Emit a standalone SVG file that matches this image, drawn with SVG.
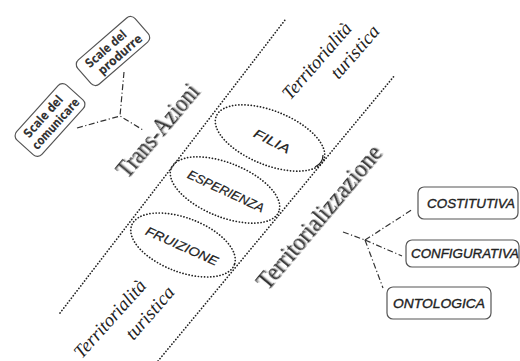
<svg xmlns="http://www.w3.org/2000/svg" width="520" height="361" viewBox="0 0 520 361">
  <defs>
    <filter id="emboss" x="-10%" y="-10%" width="120%" height="120%">
      <feDropShadow dx="1.2" dy="1" stdDeviation="0.7" flood-color="#888" flood-opacity="0.8"/>
    </filter>
  </defs>
  <style>
    .dots { fill: none; stroke: #222; stroke-width: 1.7; stroke-linecap: round; stroke-dasharray: 0.1 3; }
    .dashdot { fill: none; stroke: #333; stroke-width: 1.2; stroke-dasharray: 6 2.5 1.2 2.5; }
    .box { fill: #fff; stroke: #555; stroke-width: 1.2; }
    .big { font-family: "Liberation Serif", "Times New Roman", serif; font-size: 25px; fill: #333; filter: url(#emboss); }
    .script { font-family: "Liberation Serif", serif; font-style: italic; font-size: 19px; fill: #222; }
    .oval { font-family: "Liberation Sans", Arial, sans-serif; font-style: italic; font-size: 12.5px; fill: #222; stroke: #222; stroke-width: 0.2; }
    .cap { font-family: "Liberation Sans", Arial, sans-serif; font-style: italic; font-size: 13px; fill: #222; stroke: #222; stroke-width: 0.35; }
    .hand { font-family: "DejaVu Sans", sans-serif; font-weight: bold; font-size: 12.5px; fill: #333; }
  </style>

  <!-- band guides -->
  <g id="guides">
    <line class="dots" x1="60" y1="313" x2="285" y2="20"/>
    <line class="dots" x1="158" y1="361" x2="395" y2="75"/>
  </g>

  <!-- band labels -->
  <g id="territorialita-top">
    <text class="script" transform="translate(317,61) rotate(-49)" y="6" text-anchor="middle" textLength="95" lengthAdjust="spacingAndGlyphs">Territorialità</text>
    <text class="script" transform="translate(355,52) rotate(-49)" y="6" text-anchor="middle" textLength="64" lengthAdjust="spacingAndGlyphs">turistica</text>
  </g>
  <g id="territorialita-bottom">
    <text class="script" transform="translate(110,319) rotate(-48)" y="6" text-anchor="middle" textLength="98" lengthAdjust="spacingAndGlyphs">Territorialità</text>
    <text class="script" transform="translate(150,313) rotate(-49)" y="6" text-anchor="middle" textLength="64" lengthAdjust="spacingAndGlyphs">turistica</text>
  </g>

  <g id="trans-azioni">
    <text class="big" transform="translate(158.5,131.5) rotate(-50)" x="0" y="7" text-anchor="middle" textLength="114" lengthAdjust="spacingAndGlyphs">Trans-Azioni</text>
  </g>
  <g id="territorializzazione">
    <text class="big" transform="translate(320,218) rotate(-50)" x="0" y="7" text-anchor="middle" textLength="180" lengthAdjust="spacingAndGlyphs">Territorializzazione</text>
  </g>

  <!-- ovals inside the band -->
  <g id="filia">
    <ellipse class="dots" cx="270" cy="138" rx="58" ry="27" transform="rotate(22 270 138)"/>
    <text class="oval" transform="translate(272,141) rotate(27)" y="4.5" text-anchor="middle" textLength="39" lengthAdjust="spacingAndGlyphs">FILIA</text>
  </g>
  <g id="esperienza">
    <ellipse class="dots" cx="225" cy="190" rx="58" ry="27" transform="rotate(22 225 190)"/>
    <text class="oval" transform="translate(226,191) rotate(25)" y="4.5" text-anchor="middle" textLength="83" lengthAdjust="spacingAndGlyphs">ESPERIENZA</text>
  </g>
  <g id="fruizione">
    <ellipse class="dots" cx="183" cy="245" rx="55" ry="27" transform="rotate(21 183 245)"/>
    <text class="oval" transform="translate(182,246) rotate(24)" y="4.5" text-anchor="middle" textLength="78" lengthAdjust="spacingAndGlyphs">FRUIZIONE</text>
  </g>

  <!-- scale boxes -->
  <g id="scale-comunicare" transform="translate(50,120) rotate(-48)">
    <rect class="box" x="-37" y="-17" width="74" height="34" rx="6"/>
    <text class="hand" x="-2" y="-3" text-anchor="middle" textLength="52" lengthAdjust="spacingAndGlyphs">Scale del</text>
    <text class="hand" x="1" y="11" text-anchor="middle" textLength="64" lengthAdjust="spacingAndGlyphs">comunicare</text>
  </g>
  <g id="scale-produrre" transform="translate(113,51) rotate(-41)">
    <rect class="box" x="-38" y="-16" width="76" height="32" rx="6"/>
    <text class="hand" x="-4" y="-2" text-anchor="middle" textLength="50" lengthAdjust="spacingAndGlyphs">Scale del</text>
    <text class="hand" x="3" y="11.5" text-anchor="middle" textLength="54" lengthAdjust="spacingAndGlyphs">produrre</text>
  </g>

  <!-- dimension boxes -->
  <g id="costitutiva">
    <rect class="box" x="418" y="187" width="100" height="32" rx="6"/>
    <text class="cap" x="471" y="208" text-anchor="middle" textLength="88" lengthAdjust="spacingAndGlyphs">COSTITUTIVA</text>
  </g>
  <g id="configurativa">
    <rect class="box" x="406" y="240" width="113" height="27" rx="6"/>
    <text class="cap" x="465" y="258" text-anchor="middle" textLength="108" lengthAdjust="spacingAndGlyphs">CONFIGURATIVA</text>
  </g>
  <g id="ontologica">
    <rect class="box" x="387" y="287" width="104" height="32" rx="6"/>
    <text class="cap" x="439" y="308" text-anchor="middle" textLength="92" lengthAdjust="spacingAndGlyphs">ONTOLOGICA</text>
  </g>

  <!-- connectors -->
  <g id="connectors">
    <polyline class="dashdot" points="77,128 120,116 143,130"/>
    <line class="dashdot" x1="124" y1="72" x2="120" y2="116"/>
    <line class="dashdot" x1="343" y1="232" x2="365" y2="240"/>
    <line class="dashdot" x1="365" y1="240" x2="413" y2="209"/>
    <line class="dashdot" x1="365" y1="240" x2="402" y2="256"/>
    <line class="dashdot" x1="365" y1="240" x2="383" y2="288"/>
    <path d="M323,155 q0,8 -8,12" fill="none" stroke="#222" stroke-width="1.2"/>
  </g>
</svg>
